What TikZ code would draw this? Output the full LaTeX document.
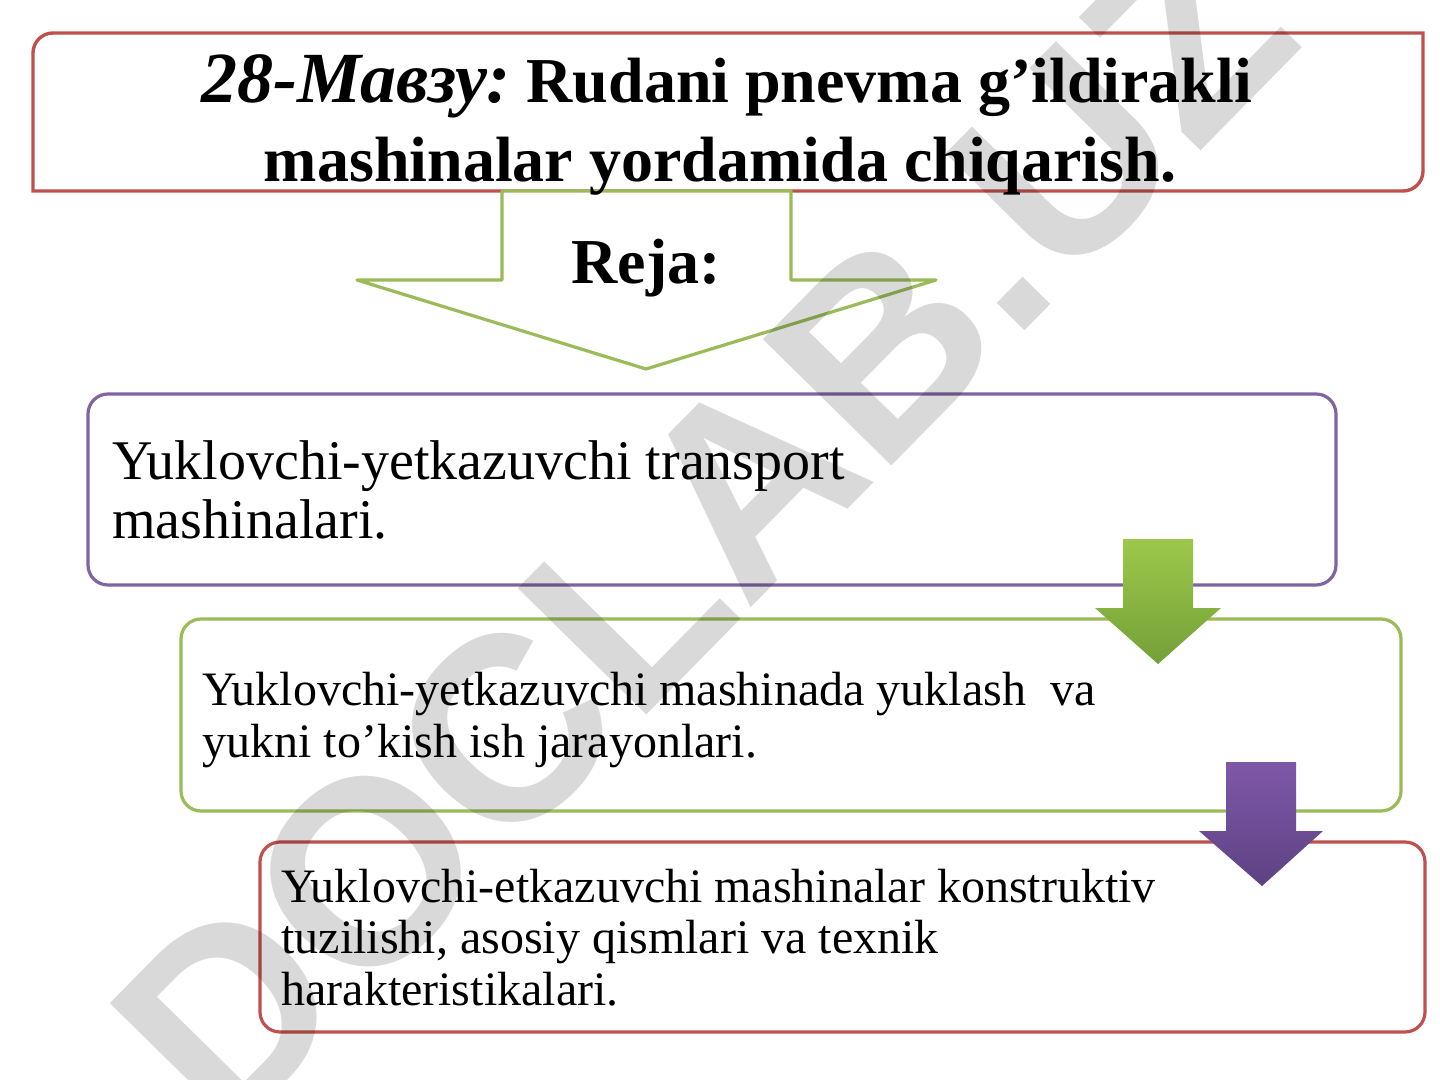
\documentclass[tikz,border=0pt]{standalone}
\usepackage{fontspec}
\setmainfont{Liberation Serif}
\newfontfamily\wmfont{Liberation Sans}
\definecolor{cred}{HTML}{C0504D}
\definecolor{cgreen}{HTML}{9BBB59}
\definecolor{cpurple}{HTML}{8064A2}
\definecolor{gtop}{HTML}{9DC84B}
\definecolor{gbot}{HTML}{74A039}
\definecolor{ptop}{HTML}{7F58A8}
\definecolor{pbot}{HTML}{5D4283}
\begin{document}
\begin{tikzpicture}[x=0.5pt,y=-0.5pt,
  planbox/.style={line width=1.6pt, rounded corners=10pt, inner sep=0pt, fill=white},
  linetext/.style={anchor=base west, inner sep=0pt},
  bigtext/.style={font=\fontsize{28}{30}\selectfont},
  smalltext/.style={font=\fontsize{24}{26}\selectfont},
  titletext/.style={anchor=base, inner sep=0pt, font=\fontsize{32}{40}\selectfont\bfseries}
]
\useasboundingbox (0,0) rectangle (1440,1080);
\fill[white] (0,0) rectangle (1440,1080);

% title box (round diagonal corners)
\draw[draw=cred, line width=1.7pt, fill=white] (33,191) -- (33,53) arc[start angle=180, end angle=270, radius=20]
  -- (1423,33) -- (1423,171) arc[start angle=0, end angle=90, radius=20] -- cycle;

% outlined block arrow
\draw[draw=cgreen, line width=1.6pt, line join=round, fill=white] (502,191) -- (502,280) -- (357,280) -- (646,369)
  -- (936,280) -- (791,280) -- (791,191) -- cycle;

% plan boxes
\node[planbox, draw=cpurple, minimum width=624pt, minimum height=95.5pt] (b1) at (712,489.5) {};
\node[planbox, draw=cgreen, minimum width=610pt, minimum height=96pt] (b2) at (791,715) {};
\node[planbox, draw=cred, minimum width=582.5pt, minimum height=95pt] (b3) at (842.5,937) {};

% filled arrows
\shade[top color=gtop, bottom color=gbot] (1123,539) -- (1193,539) -- (1193,608) -- (1221,608)
  -- (1158,664) -- (1095,608) -- (1123,608) -- cycle;
\shade[top color=ptop, bottom color=pbot] (1226,762) -- (1296,762) -- (1296,831) -- (1323,831)
  -- (1262,886) -- (1199,831) -- (1226,831) -- cycle;

% title texts
\node[titletext] (t1) at (727,103) {{\fontsize{36}{40}\selectfont\itshape 28-Мавзу:}\ Rudani pnevma g’ildirakli};
\node[titletext] (t2) at (720,182) {mashinalar yordamida chiqarish.};
\node[titletext] (reja) at (646,284) {Reja:};

% box texts
\node[linetext, bigtext] (l1a) at (112,480) {Yuklovchi-yetkazuvchi transport};
\node[linetext, bigtext] (l1b) at (112,538) {mashinalari.};
\node[linetext, smalltext] (l2a) at (202,705) {Yuklovchi-yetkazuvchi mashinada yuklash\ \ va};
\node[linetext, smalltext] (l2b) at (202,757) {yukni to’kish ish jarayonlari.};
\node[linetext, smalltext] (l3a) at (281,902) {Yuklovchi-etkazuvchi mashinalar konstruktiv};
\node[linetext, smalltext] (l3b) at (281,953) {tuzilishi, asosiy qismlari va texnik};
\node[linetext, smalltext] (l3c) at (281,1005) {harakteristikalari.};

% watermark
\node[inner sep=0pt, rotate=45.5, text=black, text opacity=0.15,
  font=\wmfont\bfseries\fontsize{131}{131}\selectfont] (wm) at (703,529) {DOCLAB.UZ};
\end{tikzpicture}
\end{document}
